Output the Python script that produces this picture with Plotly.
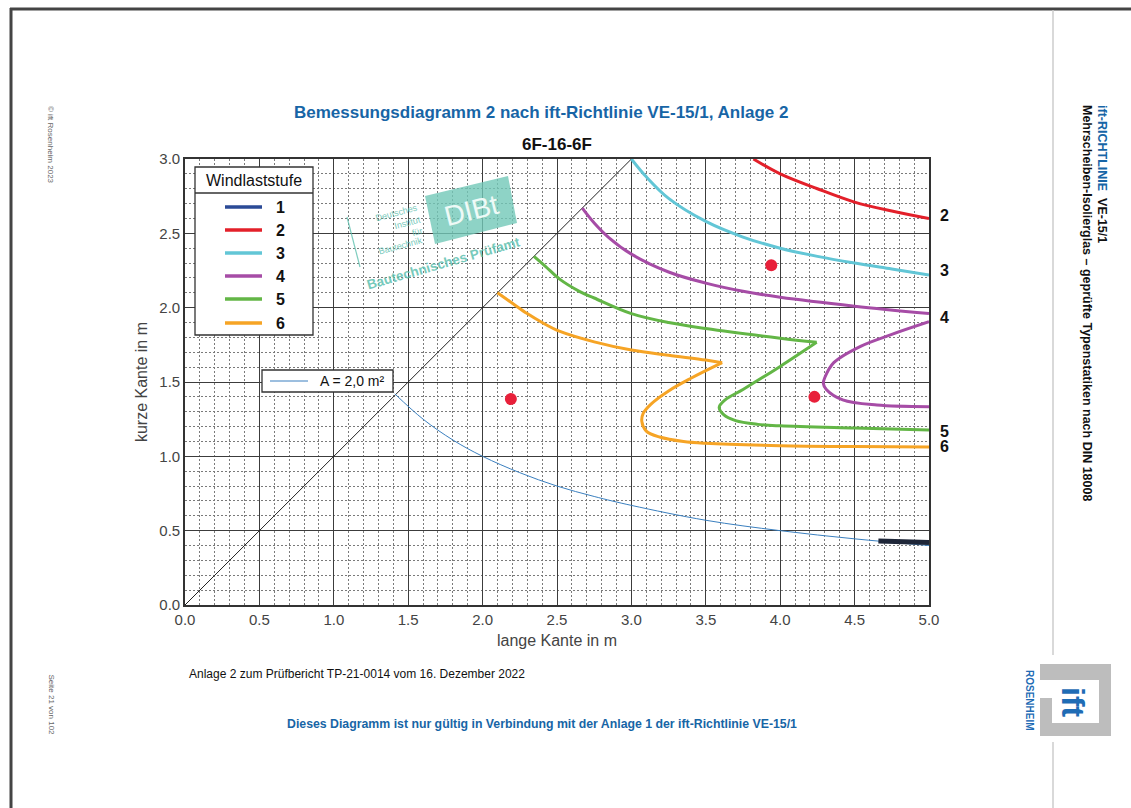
import plotly.graph_objects as go

# ---------------- data ----------------
ws1_x = [4.66, 4.80, 5.00]
ws1_y = [0.430, 0.425, 0.420]

ws2_x = [3.82, 4.00, 4.25, 4.50, 4.75, 5.00]
ws2_y = [3.00, 2.90, 2.80, 2.71, 2.65, 2.60]

ws3_x = [3.00, 3.10, 3.25, 3.50, 3.75, 4.00, 4.25, 4.50, 4.75, 5.00]
ws3_y = [3.00, 2.88, 2.735, 2.58, 2.475, 2.40, 2.345, 2.30, 2.26, 2.22]

ws4_upper_x = [2.67, 2.75, 2.85, 3.00, 3.25, 3.50, 3.75, 4.00, 4.50, 5.00]
ws4_upper_y = [2.67, 2.57, 2.47, 2.36, 2.24, 2.165, 2.11, 2.07, 2.01, 1.96]
ws4_lower_x = [5.00, 4.75, 4.54, 4.36, 4.30, 4.29, 4.31, 4.42, 4.65, 5.00]
ws4_lower_y = [1.905, 1.82, 1.74, 1.63, 1.53, 1.49, 1.45, 1.38, 1.345, 1.334]

ws5_upper_x = [2.345, 2.42, 2.52, 2.65, 2.75, 3.00, 3.25, 3.50, 4.00, 4.245]
ws5_upper_y = [2.345, 2.28, 2.19, 2.11, 2.065, 1.96, 1.90, 1.86, 1.795, 1.767]
ws5_lower_x = [4.245, 4.00, 3.75, 3.63, 3.59, 3.62, 3.70, 3.85, 4.00, 4.50, 5.00]
ws5_lower_y = [1.767, 1.605, 1.45, 1.38, 1.33, 1.28, 1.24, 1.215, 1.205, 1.19, 1.177]

ws6_upper_x = [2.10, 2.20, 2.30, 2.40, 2.52, 2.75, 3.00, 3.25, 3.50, 3.61]
ws6_upper_y = [2.10, 2.03, 1.96, 1.90, 1.84, 1.77, 1.715, 1.68, 1.648, 1.63]
ws6_lower_x = [3.61, 3.40, 3.25, 3.13, 3.08, 3.07, 3.10, 3.19, 3.35, 3.50, 4.00, 4.50, 5.00]
ws6_lower_y = [1.63, 1.525, 1.44, 1.35, 1.29, 1.235, 1.17, 1.13, 1.10, 1.088, 1.072, 1.066, 1.063]

area_x = [1.41, 1.60, 1.80, 2.00, 2.25, 2.50, 2.75, 3.00, 3.50, 4.00, 4.50, 5.00]
area_y = [1.42, 1.25, 1.11, 1.00, 0.89, 0.80, 0.73, 0.67, 0.57, 0.50, 0.445, 0.40]

diag_x = [0.0, 3.0]
diag_y = [0.0, 3.0]

dots_x = [2.19, 3.94, 4.23]
dots_y = [1.385, 2.285, 1.40]

legend_labels = ["1", "2", "3", "4", "5", "6"]
end_labels = ["2", "3", "4", "5", "6"]
end_label_y = [2.617, 2.247, 1.937, 1.170, 1.063]

x_ticks = [0.0, 0.5, 1.0, 1.5, 2.0, 2.5, 3.0, 3.5, 4.0, 4.5, 5.0]
y_ticks = [0.0, 0.5, 1.0, 1.5, 2.0, 2.5, 3.0]

# ---------------- styles ----------------
C1, C2, C3, C4, C5, C6 = "#2b4a96", "#e3202a", "#62c6d6", "#a64ca6", "#63b646", "#f6a425"
C1_PLOT = "#1e2638"
BLUE_TXT = "#1765a6"
TEAL = "#5fc1b0"
NARROW = "Liberation Sans Narrow, Arial Narrow, Liberation Sans, Arial, sans-serif"
ARIAL = "Liberation Sans, Arial, sans-serif"

W, H = 1131, 808
L, R, T, B = 185, 929, 159, 605


def PX(px):
    return (px - L) / (R - L)


def PY(py):
    return (B - py) / (B - T)


fig = go.Figure()


def add_line(x, y, color, width, shape="spline"):
    fig.add_trace(go.Scatter(x=x, y=y, mode="lines", showlegend=False, hoverinfo="skip",
                             line=dict(color=color, width=width, shape=shape, smoothing=1.0),
                             cliponaxis=True))


add_line(diag_x, diag_y, "#222222", 1.0, "linear")
add_line(area_x, area_y, "#3a7fbf", 1.0)
add_line(ws2_x, ws2_y, C2, 3)
add_line(ws3_x, ws3_y, C3, 3)
add_line(ws4_upper_x, ws4_upper_y, C4, 3)
add_line(ws4_lower_x, ws4_lower_y, C4, 3)
add_line(ws5_upper_x, ws5_upper_y, C5, 3)
add_line(ws5_lower_x, ws5_lower_y, C5, 3)
add_line(ws6_upper_x, ws6_upper_y, C6, 3)
add_line(ws6_lower_x, ws6_lower_y, C6, 3)
add_line(ws1_x, ws1_y, C1_PLOT, 5, "linear")

fig.add_trace(go.Scatter(x=dots_x, y=dots_y, mode="markers", showlegend=False, hoverinfo="skip",
                         marker=dict(color="#e8203a", size=12, line=dict(width=0))))

shapes = []
ann = []

# page frame
shapes.append(dict(type="line", xref="paper", yref="paper", x0=PX(10), x1=PX(1131), y0=PY(9), y1=PY(9),
                   line=dict(color="#444", width=3)))
shapes.append(dict(type="line", xref="paper", yref="paper", x0=PX(11), x1=PX(11), y0=PY(8), y1=PY(808),
                   line=dict(color="#444", width=3)))
shapes.append(dict(type="line", xref="paper", yref="paper", x0=PX(1053), x1=PX(1053), y0=PY(10), y1=PY(655),
                   line=dict(color="#cccccc", width=1.5)))
shapes.append(dict(type="line", xref="paper", yref="paper", x0=PX(1053), x1=PX(1053), y0=PY(742), y1=PY(808),
                   line=dict(color="#cccccc", width=1.5)))

# Windlaststufe legend box
shapes.append(dict(type="rect", xref="paper", yref="paper", x0=PX(195), x1=PX(313), y0=PY(335), y1=PY(167),
                   fillcolor="white", line=dict(color="#333", width=1.3), layer="above"))
shapes.append(dict(type="line", xref="paper", yref="paper", x0=PX(195), x1=PX(313), y0=PY(193), y1=PY(193),
                   line=dict(color="#333", width=1.3), layer="above"))
ann.append(dict(xref="paper", yref="paper", x=PX(254), y=PY(180), text="Windlaststufe", showarrow=False,
                font=dict(family=ARIAL, size=16, color="#111"), xanchor="center", yanchor="middle"))
row_py = [207, 230, 253, 276, 299, 323]
for lab, c, py in zip(legend_labels, [C1, C2, C3, C4, C5, C6], row_py):
    shapes.append(dict(type="line", xref="paper", yref="paper", x0=PX(225), x1=PX(262), y0=PY(py), y1=PY(py),
                       line=dict(color=c, width=3.5), layer="above"))
    ann.append(dict(xref="paper", yref="paper", x=PX(280), y=PY(py), text="<b>%s</b>" % lab, showarrow=False,
                    font=dict(family=ARIAL, size=16, color="#111"), xanchor="center", yanchor="middle"))

# A = 2,0 m² legend
shapes.append(dict(type="rect", xref="paper", yref="paper", x0=PX(262), x1=PX(393), y0=PY(392), y1=PY(370),
                   fillcolor="white", line=dict(color="#333", width=1.3), layer="above"))
shapes.append(dict(type="line", xref="paper", yref="paper", x0=PX(270), x1=PX(308), y0=PY(381), y1=PY(381),
                   line=dict(color="#3a7fbf", width=1), layer="above"))
ann.append(dict(xref="paper", yref="paper", x=PX(318), y=PY(381), text="A = 2,0 m²", showarrow=False,
                font=dict(family=ARIAL, size=14, color="#111"), xanchor="left", yanchor="middle"))

# DIBt stamp
pts = [(425, 196), (508, 176), (517, 223), (435, 244)]
path = "M " + " L ".join("%f %f" % (PX(a), PY(b)) for a, b in pts) + " Z"
shapes.append(dict(type="path", xref="paper", yref="paper", path=path, fillcolor="#72c8b8", opacity=0.8,
                   line=dict(width=0), layer="above"))
shapes.append(dict(type="line", xref="paper", yref="paper", x0=PX(347), x1=PX(360), y0=PY(217), y1=PY(267),
                   line=dict(color=TEAL, width=1.2), layer="above", opacity=0.8))
ann.append(dict(xref="paper", yref="paper", x=PX(471), y=PY(210), text="DIBt", showarrow=False, textangle=-14,
                font=dict(family=ARIAL, size=28, color="#eefaf7"), xanchor="center", yanchor="middle"))
ann.append(dict(xref="paper", yref="paper", x=PX(443), y=PY(263), text="<b>Bautechnisches Prüfamt</b>",
                showarrow=False, textangle=-16, opacity=0.85,
                font=dict(family=ARIAL, size=13.5, color=TEAL), xanchor="center", yanchor="middle"))
for t, (a, b) in zip(["Deutsches", "Institut", "für", "Bautechnik"],
                     [(396, 213), (407, 223), (417, 232), (400, 246)]):
    ann.append(dict(xref="paper", yref="paper", x=PX(a), y=PY(b), text=t, showarrow=False, textangle=-15,
                    opacity=0.85, font=dict(family=ARIAL, size=9, color=TEAL), xanchor="center",
                    yanchor="middle"))

# end labels on the right
for lab, yv in zip(end_labels, end_label_y):
    ann.append(dict(xref="paper", yref="y", x=PX(944), y=yv, text="<b>%s</b>" % lab, showarrow=False,
                    font=dict(family=ARIAL, size=16, color="#111"), xanchor="center", yanchor="middle"))

# titles
ann.append(dict(xref="paper", yref="paper", x=PX(541), y=PY(112),
                text="<b>Bemessungsdiagramm 2 nach ift-Richtlinie VE-15/1, Anlage 2</b>", showarrow=False,
                font=dict(family=NARROW, size=17, color=BLUE_TXT), xanchor="center", yanchor="middle"))
ann.append(dict(xref="paper", yref="paper", x=PX(557), y=PY(145), text="<b>6F-16-6F</b>", showarrow=False,
                font=dict(family=ARIAL, size=17, color="#111"), xanchor="center", yanchor="middle"))
ann.append(dict(xref="paper", yref="paper", x=PX(187), y=PY(674),
                text="Anlage 2 zum Prüfbericht TP-21-0014 vom 16. Dezember 2022", showarrow=False,
                font=dict(family=ARIAL, size=12, color="#111"), xanchor="left", yanchor="middle"))
ann.append(dict(xref="paper", yref="paper", x=PX(542), y=PY(724),
                text="<b>Dieses Diagramm ist nur gültig in Verbindung mit der Anlage 1 der ift-Richtlinie VE-15/1</b>",
                showarrow=False, font=dict(family=NARROW, size=12.3, color=BLUE_TXT),
                xanchor="center", yanchor="middle"))

# side texts (first line appears on the right when rotated)
ann.append(dict(xref="paper", yref="paper", x=PX(1102), y=PY(103),
                text="<b><span style='color:%s'>ift-RICHTLINIE</span>  VE-15/1</b>" % BLUE_TXT,
                showarrow=False, textangle=90, font=dict(family=NARROW, size=12.5, color="#111"),
                xanchor="center", yanchor="top"))
ann.append(dict(xref="paper", yref="paper", x=PX(1087), y=PY(103),
                text="<b>Mehrscheiben-Isolierglas – geprüfte Typenstatiken nach DIN 18008</b>",
                showarrow=False, textangle=90, font=dict(family=NARROW, size=12.5, color="#111"),
                xanchor="center", yanchor="top"))
ann.append(dict(xref="paper", yref="paper", x=PX(51), y=PY(104), text="© ift Rosenheim 2023",
                showarrow=False, textangle=90, font=dict(family=ARIAL, size=8, color="#666"),
                xanchor="center", yanchor="top"))
ann.append(dict(xref="paper", yref="paper", x=PX(51), y=PY(672), text="Seite 21 von 102",
                showarrow=False, textangle=90, font=dict(family=ARIAL, size=8, color="#666"),
                xanchor="center", yanchor="top"))

# ift logo
shapes.append(dict(type="rect", xref="paper", yref="paper", x0=PX(1040), x1=PX(1111), y0=PY(736), y1=PY(664),
                   fillcolor="#bdbdbd", line=dict(width=0), layer="above"))
shapes.append(dict(type="rect", xref="paper", yref="paper", x0=PX(1052), x1=PX(1099), y0=PY(723), y1=PY(680),
                   fillcolor="white", line=dict(width=0), layer="above"))
shapes.append(dict(type="rect", xref="paper", yref="paper", x0=PX(1040), x1=PX(1052), y0=PY(698), y1=PY(680),
                   fillcolor="white", line=dict(width=0), layer="above"))
ann.append(dict(xref="paper", yref="paper", x=PX(1073), y=PY(702), text="<b>ift</b>", showarrow=False,
                textangle=90, font=dict(family=ARIAL, size=32, color="#1f6cb5"),
                xanchor="center", yanchor="middle"))
ann.append(dict(xref="paper", yref="paper", x=PX(1030), y=PY(700), text="<b>ROSENHEIM</b>", showarrow=False,
                textangle=90, font=dict(family=ARIAL, size=10, color="#1f6cb5"),
                xanchor="center", yanchor="middle"))

axis_common = dict(
    showgrid=True, gridcolor="#3c3c3c", gridwidth=1.3,
    showline=True, linecolor="#333", linewidth=1.6, mirror=True,
    zeroline=False, ticks="", tickformat=".1f",
    tickfont=dict(family=ARIAL, size=15, color="#444"),
    minor=dict(dtick=0.1, showgrid=True, gridcolor="#7a7a7a", gridwidth=1, griddash="1.5px,2.5px"),
)

fig.update_layout(
    width=W, height=H,
    margin=dict(l=L, r=W - R, t=T, b=H - B, pad=0),
    paper_bgcolor="white", plot_bgcolor="white",
    showlegend=False,
    xaxis=dict(range=[0, 5], tickvals=x_ticks, **axis_common,
               title=dict(text="lange Kante in m", font=dict(family=ARIAL, size=16, color="#444"), standoff=8)),
    yaxis=dict(range=[0, 3], tickvals=y_ticks, **axis_common,
               title=dict(text="kurze Kante in m", font=dict(family=ARIAL, size=16, color="#444"), standoff=8)),
    shapes=shapes,
    annotations=ann,
)

fig.write_html("out.html", config={"displayModeBar": False},
               post_script="document.body.style.margin='0px';")
